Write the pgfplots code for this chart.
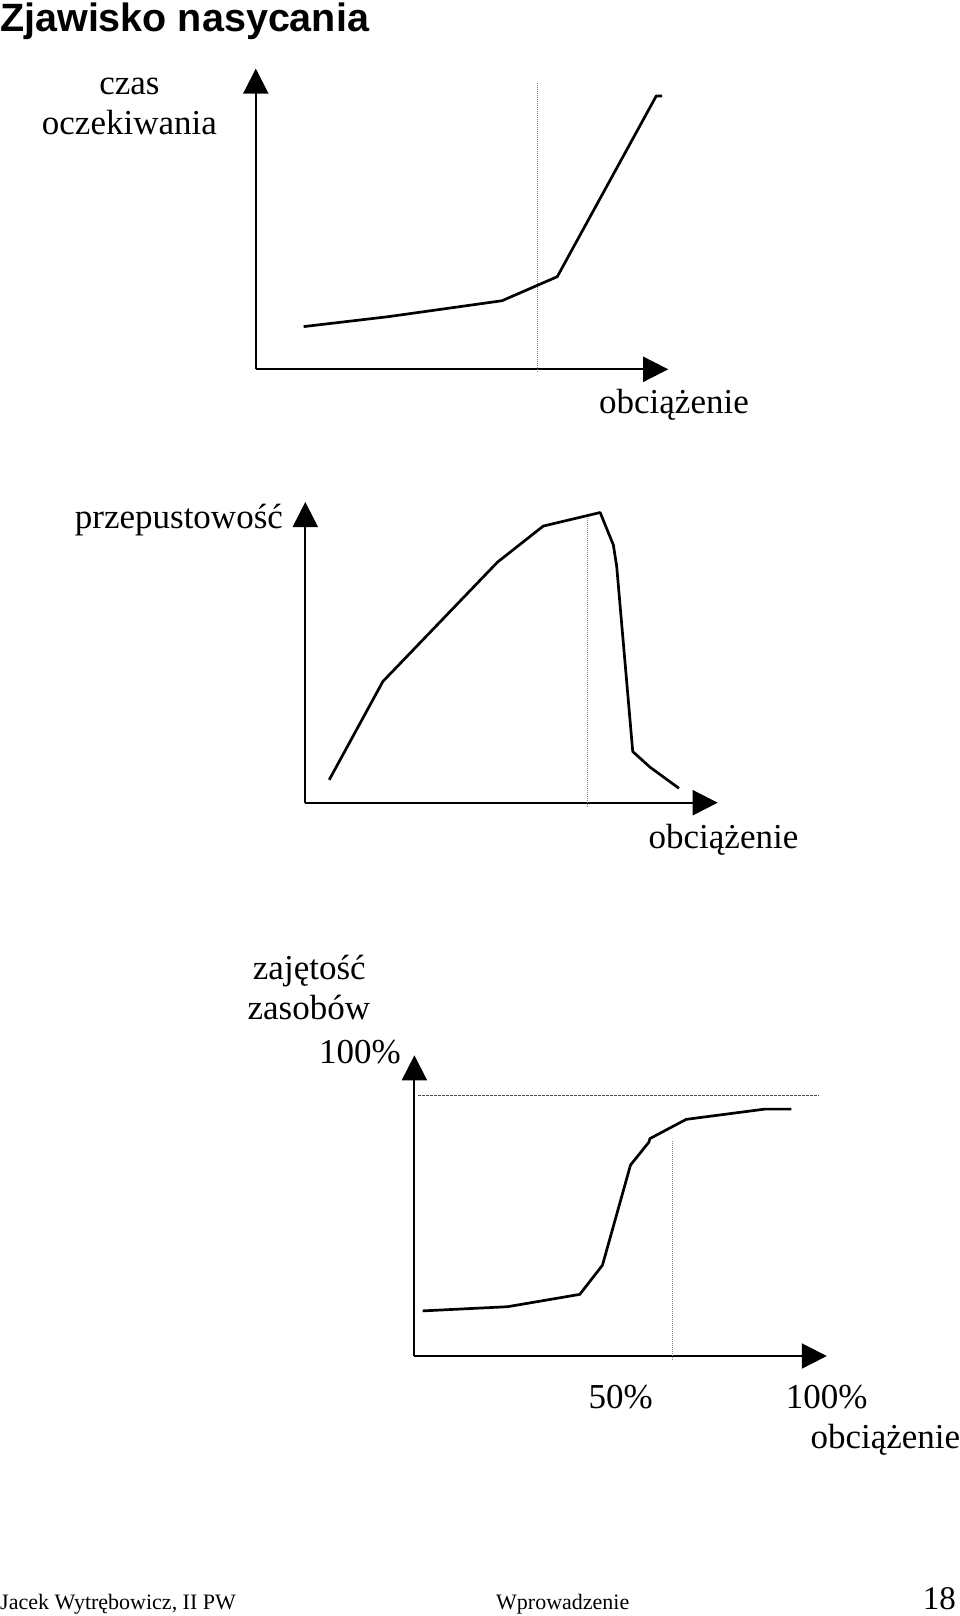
\documentclass[border=0pt]{standalone}
\usepackage{fontspec}
\setmainfont{Liberation Serif}
\newfontfamily\titlefont{Liberation Sans}
\usepackage{pgfplots}
\pgfplotsset{compat=1.18}
\usetikzlibrary{arrows.meta}
\newcommand\lbl{\fontsize{35}{40}\selectfont}
\pgfplotsset{
  sat/.style={
    scale only axis, width=412.4pt, height=300.7pt,
    xmin=0, xmax=100, ymin=0, ymax=100,
    enlargelimits=false, clip=false,
    axis lines=left,
    axis line style={line width=2pt, -{Triangle[length=25pt,width=25pt]}},
    xtick=\empty, ytick=\empty,
    major tick length=0pt,
    anchor=south west,
    every axis x label/.style={at={(axis cs:101.4,0)}, anchor=base, inner sep=0pt, yshift=-44pt, font=\lbl},
  },
  curve/.style={black, line width=2.7pt, line join=round, no marks},
  vdot/.style={gray, line width=1pt, dash pattern=on 1pt off 1pt, no marks},
}
\begin{document}
\begin{tikzpicture}
\useasboundingbox (0pt,0pt) rectangle (960pt,-1616pt);
% title
\node[anchor=base west, inner sep=0pt] at (0pt,-32pt) {\titlefont\bfseries\fontsize{39.5}{45}\selectfont Zjawisko nasycania};

% ---------- chart 1 ----------
\node[anchor=base, inner sep=0pt] at (129.4pt,-95pt) {\lbl czas};
\node[anchor=base, inner sep=0pt] at (129.4pt,-135pt) {\lbl oczekiwania};
\begin{axis}[sat, at={(255.8pt,-369.3pt)}, xlabel={obciążenie}]
\addplot[vdot] coordinates {(68.2,-0.8) (68.2,95.5)};
\addplot[curve] coordinates {
(11.6,14.2) (32.1,17.5) (59.7,22.8) (73.1,30.8) (97.1,90.9) (98.5,90.9)};
\end{axis}

% ---------- chart 2 ----------
\node[anchor=base, inner sep=0pt] at (178.9pt,-528pt) {\lbl przepustowość};
\begin{axis}[sat, at={(305.3pt,-802.7pt)}, xlabel={obciążenie},
  every axis x label/.append style={yshift=-1.3pt}]
\addplot[vdot] coordinates {(68.4,-1.3) (68.4,95.6)};
\addplot[curve] coordinates {
(5.8,7.6) (18.8,40.3) (46.6,80.0) (57.7,92.0) (71.5,96.5) (74.7,85.7)
(75.5,78.7) (79.4,17.0) (83.6,11.8) (90.6,4.8)};
\end{axis}

% ---------- chart 3 ----------
\node[anchor=base, inner sep=0pt] at (309.3pt,-979.5pt) {\lbl zajętość};
\node[anchor=base, inner sep=0pt] at (308.8pt,-1019.7pt) {\lbl zasobów};
\node[anchor=base east, inner sep=0pt] at (401pt,-1063pt) {\lbl 100\%};
\begin{axis}[sat, at={(414.4pt,-1356pt)}, xlabel={obciążenie},
  every axis x label/.append style={at={(axis cs:114.2,0)}, yshift=-48pt},
  xtick={50,100}, xticklabels={50\%,100\%},
  xticklabel style={anchor=base, inner sep=0pt, yshift=-52pt, font=\lbl}]
\addplot[gray!60!black, line width=1pt, dash pattern=on 2.5pt off 1.5pt, no marks]
  coordinates {(0.9,86.5) (98.2,86.5)};
\addplot[vdot] coordinates {(62.7,-1.3) (62.7,71.4)};
\addplot[curve] coordinates {
(2.0,15.0) (22.6,16.4) (40.1,20.5) (45.6,30.2) (52.4,63.5) (56.9,71.2)
(57.1,72.3) (65.9,78.7) (84.9,82.1) (91.4,82.1)};
\end{axis}

% footer
\node[anchor=base west, inner sep=0pt] at (0pt,-1609pt) {\fontsize{22}{26}\selectfont Jacek Wytrębowicz, II PW};
\node[anchor=base west, inner sep=0pt] at (496pt,-1609pt) {\fontsize{22}{26}\selectfont Wprowadzenie};
\node[anchor=base east, inner sep=0pt] at (956pt,-1609pt) {\fontsize{33}{38}\selectfont 18};
\end{tikzpicture}
\end{document}
